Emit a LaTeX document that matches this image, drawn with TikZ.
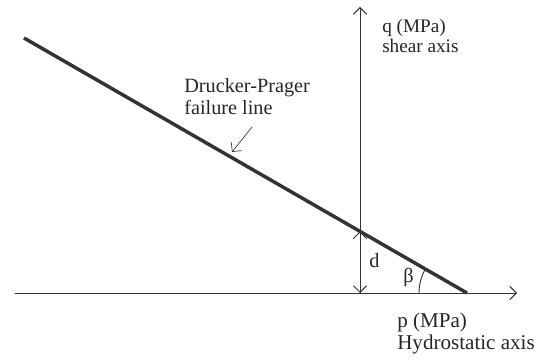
\documentclass[tikz,border=0pt]{standalone}
\usepackage{fontspec}
\setmainfont{Liberation Serif}
\usetikzlibrary{arrows.meta}
\begin{document}
\begin{tikzpicture}[x=0.75pt,y=-0.75pt,font=\fontsize{15.2}{17}\selectfont,line join=round,line cap=round,>={Straight Barb[length=5pt,width=10pt]}]
\useasboundingbox (0,0) rectangle (536,363);
\tikzset{axis/.style={draw=black!80,line width=0.7pt},
  label/.style={anchor=base west,inner sep=0pt,text=black!85}}
\path
(15,293) coordinate (O)
(517,293) coordinate (P)
(360,293) coordinate (C)
(360,7) coordinate (Q)
(24,38) coordinate (A)
(467,293) coordinate (B)
(360,231.4) coordinate (D)
(252,127) coordinate (E)
(232,152) coordinate (F)
;
\draw[axis,->] (O)--(P);
\draw[axis,->] (C)--(Q);
\draw[axis,<->] (D)--(C);
\draw[black!80,line width=2.6pt,line cap=butt] (A)--(B);
\draw[axis] (B) ++(180:48) arc[start angle=180,end angle=210,radius=48];
\draw[axis,->,line width=0.5pt] (E)--(F);
\node[label,font=\fontsize{14.4}{16}\selectfont] (qlbl) at (382,33) {q (MPa)};
\node[label,font=\fontsize{14.4}{16}\selectfont] (qname) at (382,53) {shear axis};
\node[label,font=\fontsize{15.8}{17}\selectfont] (plbl) at (397,328) {p (MPa)};
\node[label,font=\fontsize{15.8}{17}\selectfont] (pname) at (397,350) {Hydrostatic axis};
\node[label] (dplbl) at (184,93) {Drucker-Prager};
\node[label] (dpname) at (184,115) {failure line};
\node[label] (dlbl) at (369,268) {d};
\node[label] (betalbl) at (403,283) {β};
\end{tikzpicture}
\end{document}
